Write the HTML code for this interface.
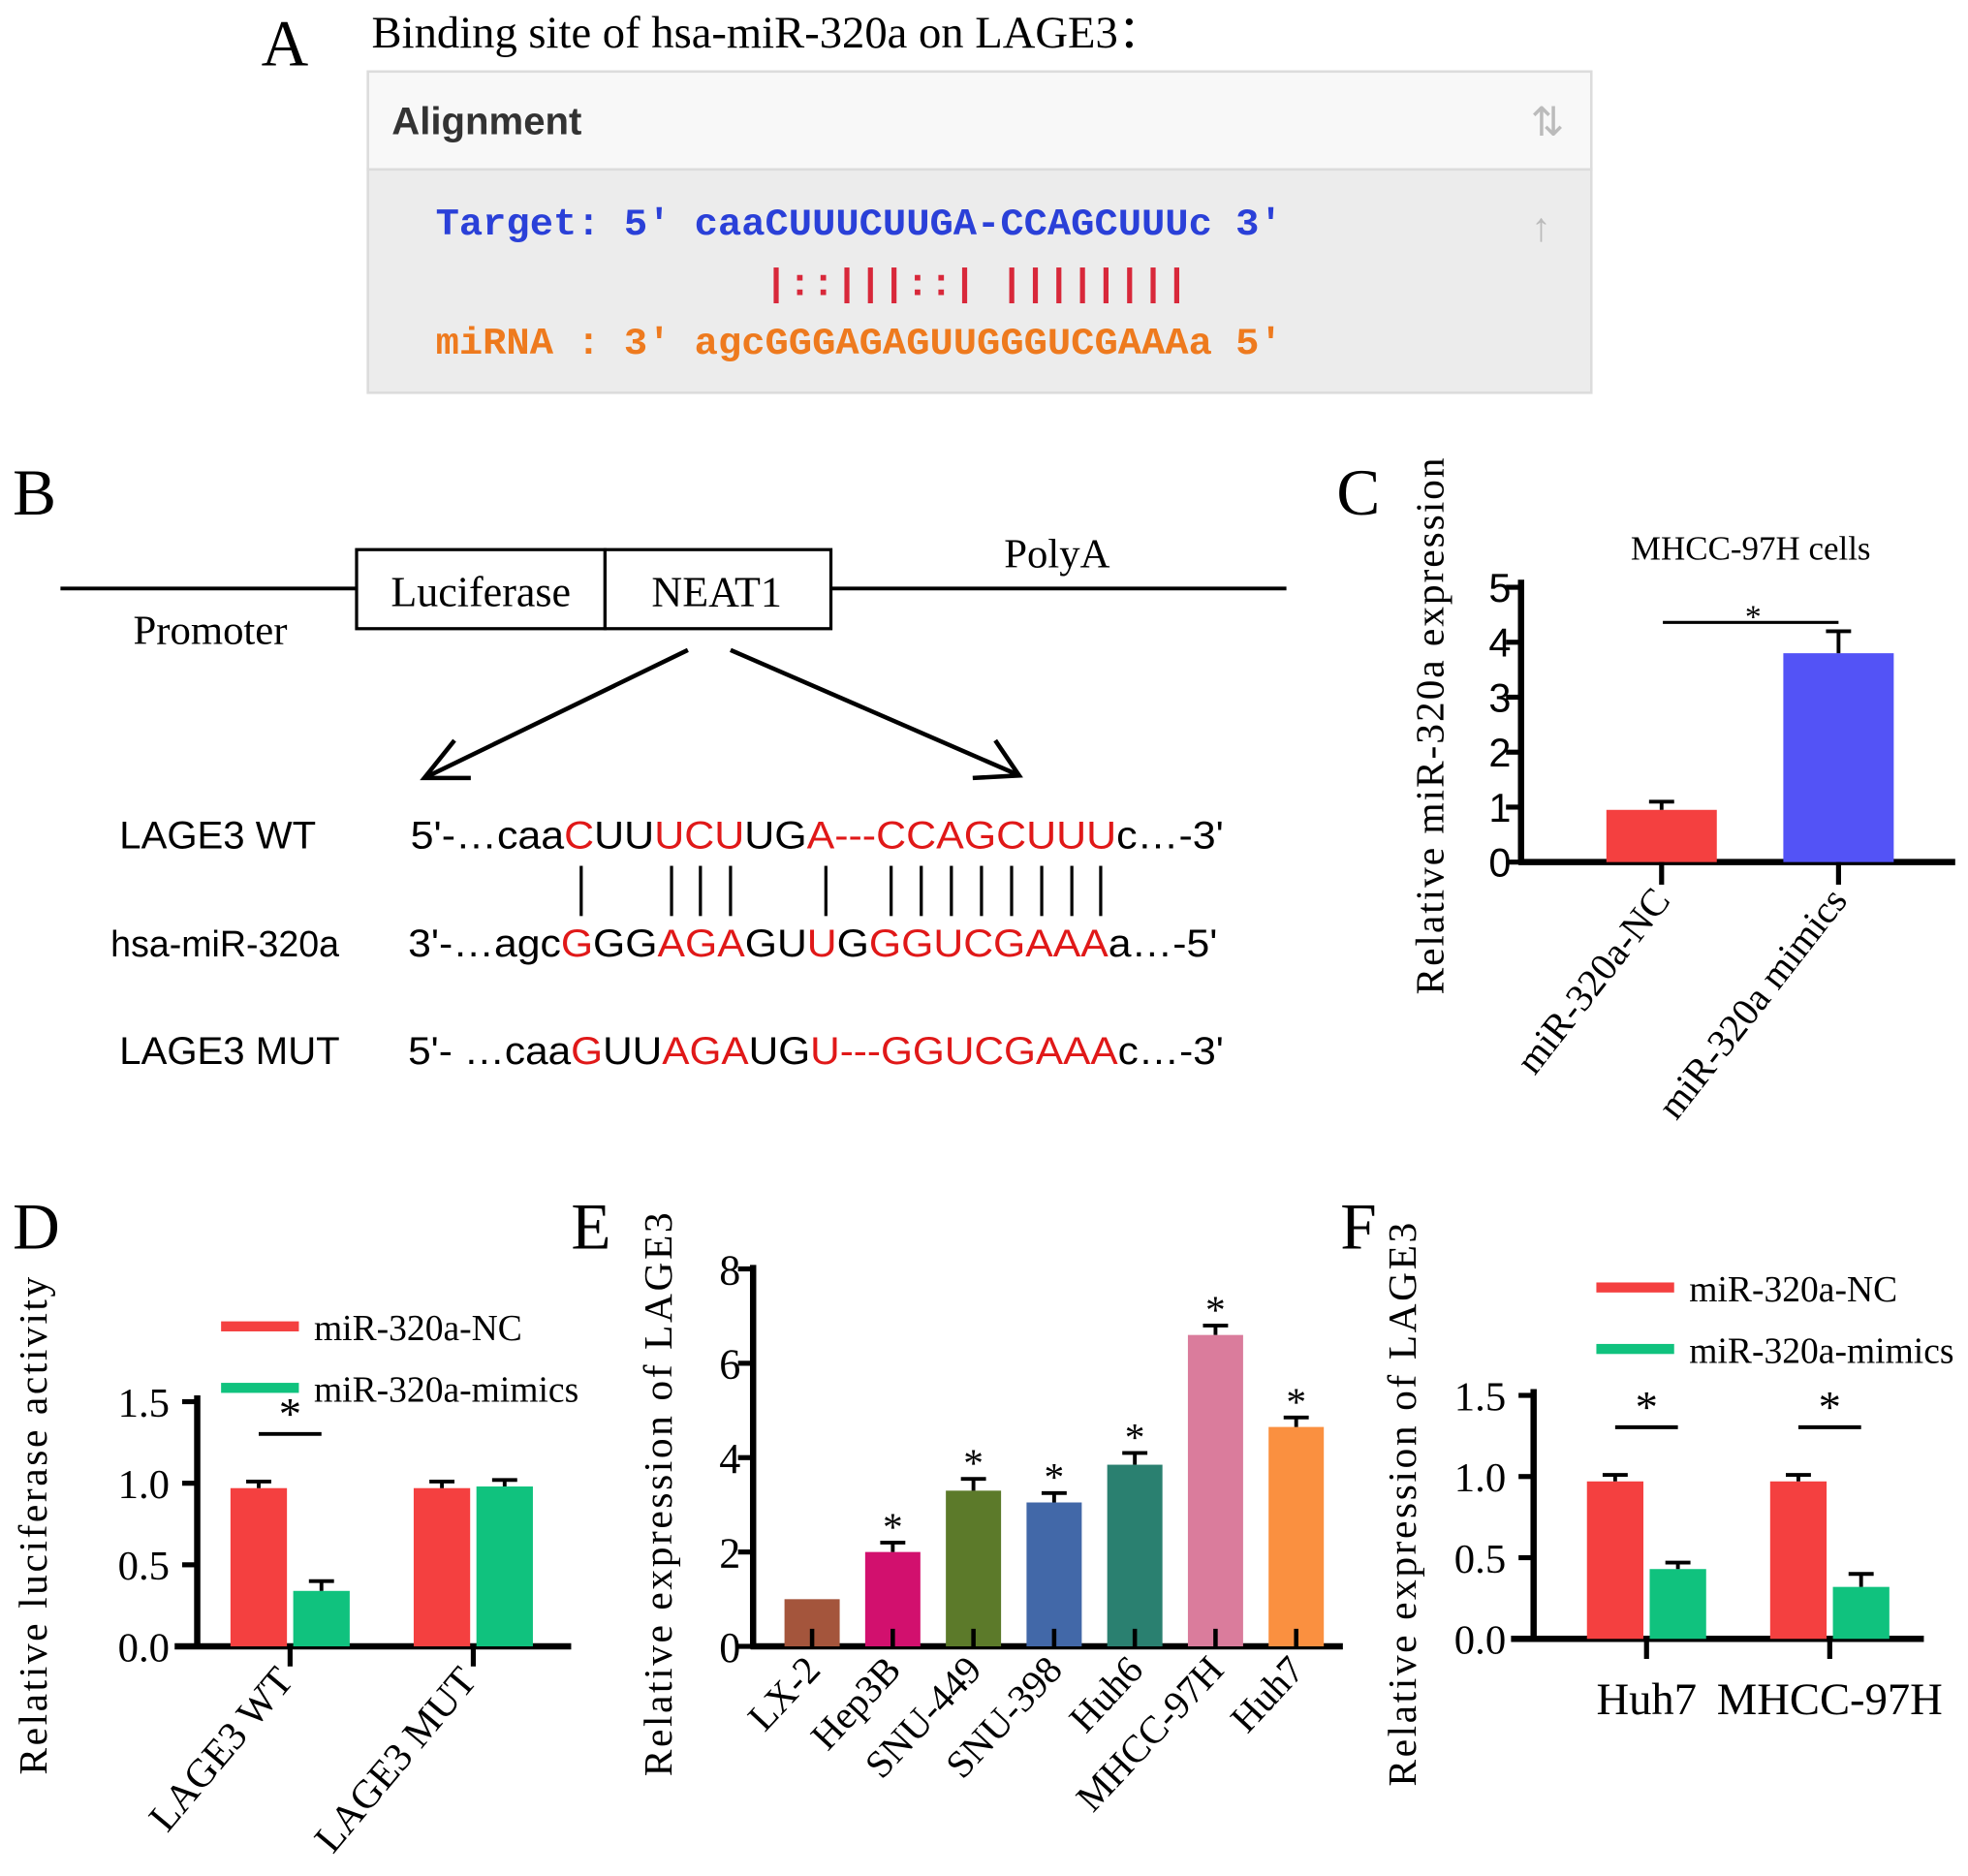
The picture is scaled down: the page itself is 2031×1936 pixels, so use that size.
<!DOCTYPE html>
<html><head><meta charset="utf-8"><style>
html,body{margin:0;padding:0;background:#fff;}
svg{display:block;}
.serif{font-family:"Liberation Serif",serif;}
.sans{font-family:"Liberation Sans",sans-serif;}
.mono{font-family:"Liberation Mono",monospace;font-weight:bold;}
</style></head><body>
<svg id="fig" width="2031" height="1936" viewBox="0 0 1568 1495" xmlns="http://www.w3.org/2000/svg">
<g>
<text class="serif" x="208" y="52" font-size="52">A</text>
<text class="serif" x="296" y="38" font-size="36">Binding site of hsa-miR-320a on LAGE3：</text>
<rect x="293" y="57" width="975" height="78" fill="#f8f8f8" stroke="#dcdcdc" stroke-width="2"/>
<rect x="293" y="135" width="975" height="178" fill="#ececec" stroke="#dcdcdc" stroke-width="2"/>
<text class="sans" x="312" y="107" font-size="31" font-weight="bold" fill="#333">Alignment</text>
<text class="sans" x="1233" y="108" font-size="32" fill="#bbb" text-anchor="middle">⇅</text>
<text class="sans" x="1228" y="192" font-size="32" fill="#bbb" text-anchor="middle">↑</text>
<text class="mono" x="347" y="187" font-size="30" fill="#2a40d8" textLength="675" lengthAdjust="spacingAndGlyphs">Target: 5' caaCUUUCUUGA-CCAGCUUUc 3'</text>
<text class="mono" x="609" y="235" font-size="30" fill="#d8283a" textLength="338" lengthAdjust="spacingAndGlyphs">|::|||::| ||||||||</text>
<text class="mono" x="347" y="282" font-size="30" fill="#ee7a1e" textLength="675" lengthAdjust="spacingAndGlyphs">miRNA : 3' agcGGGAGAGUUGGGUCGAAAa 5'</text>
</g>
<g>
<text class="serif" x="10" y="410" font-size="52">B</text>
<line x1="48" y1="469" x2="284" y2="469" stroke="#000" stroke-width="3"/>
<line x1="662" y1="469" x2="1025" y2="469" stroke="#000" stroke-width="3"/>
<rect x="284" y="438" width="198" height="63" fill="#fff" stroke="#000" stroke-width="2.5"/>
<rect x="482" y="438" width="180" height="63" fill="#fff" stroke="#000" stroke-width="2.5"/>
<text class="serif" x="383" y="483" font-size="34" text-anchor="middle">Luciferase</text>
<text class="serif" x="571" y="483" font-size="34" text-anchor="middle">NEAT1</text>
<text class="serif" x="106" y="513" font-size="33">Promoter</text>
<text class="serif" x="800" y="452" font-size="33">PolyA</text>
<g stroke="#000" stroke-width="3.5" fill="none">
<line x1="548" y1="518" x2="340" y2="619"/><polyline points="362,590 338,620 375,620"/>
<line x1="582" y1="518" x2="810" y2="617"/><polyline points="775,620 812,618 793,590"/>
</g>
<g class="sans" font-size="31">
<text x="95" y="676">LAGE3 WT</text>
<text x="88" y="762" font-size="29">hsa-miR-320a</text>
<text x="95" y="848">LAGE3 MUT</text>
<text x="327" y="676" textLength="648" lengthAdjust="spacingAndGlyphs">5'-…caa<tspan fill="#e01818">C</tspan>UU<tspan fill="#e01818">UCU</tspan>UG<tspan fill="#e01818">A---CCAGCUUU</tspan>c…-3'</text>
<text x="325" y="762" textLength="645" lengthAdjust="spacingAndGlyphs">3'-…agc<tspan fill="#e01818">G</tspan>GG<tspan fill="#e01818">AGA</tspan>GU<tspan fill="#e01818">U</tspan>G<tspan fill="#e01818">GGUCGAAA</tspan>a…-5'</text>
<text x="325" y="848" textLength="650" lengthAdjust="spacingAndGlyphs">5'- …caa<tspan fill="#e01818">G</tspan>UU<tspan fill="#e01818">AGA</tspan>UG<tspan fill="#e01818">U---GGUCGAAA</tspan>c…-3'</text>
</g>
<g id="pairs" stroke="#000" stroke-width="2.5"></g>
</g>
<g id="charts"></g>
<text class="serif" x="1065" y="410" font-size="52">C</text>
<text class="serif" x="10" y="995" font-size="52">D</text>
<text class="serif" x="455" y="995" font-size="52">E</text>
<text class="serif" x="1068" y="995" font-size="52">F</text>
</svg>
<script>
const NS="http://www.w3.org/2000/svg";
const cCats=["miR-320a-NC","miR-320a mimics"];
const cVals=[0.95,3.8];
const cErr=[1.1,4.2];
const cTicks=[0,1,2,3,4,5];
const dCats=["LAGE3 WT","LAGE3 MUT"];
const dNC=[0.97,0.97];
const dNCErr=[1.01,1.01];
const dMim=[0.34,0.98];
const dMimErr=[0.40,1.02];
const dTicks=["0.0","0.5","1.0","1.5"];
const eCats=["LX-2","Hep3B","SNU-449","SNU-398","Huh6","MHCC-97H","Huh7"];
const eVals=[1.0,2.0,3.3,3.05,3.85,6.6,4.65];
const eErr=[1.0,2.2,3.55,3.25,4.1,6.8,4.85];
const eStar=[false,true,true,true,true,true,true];
const eTicks=[0,2,4,6,8];
const fCats=["Huh7","MHCC-97H"];
const fNC=[0.97,0.97];
const fNCErr=[1.01,1.01];
const fMim=[0.43,0.32];
const fMimErr=[0.47,0.40];
const fTicks=["0.0","0.5","1.0","1.5"];

const pairXs=[463,535,558,582,658,710,734,758,782,806,830,854,877];
const pg=document.getElementById('pairs');
pairXs.forEach(x=>{const l=document.createElementNS(NS,'line');
l.setAttribute('x1',x);l.setAttribute('x2',x);l.setAttribute('y1',690);l.setAttribute('y2',730);


pg.appendChild(l);});

const root=document.getElementById('charts');
function el(tag,attrs,parent,text){const e=document.createElementNS(NS,tag);for(const k in attrs)e.setAttribute(k,attrs[k]);if(text!==undefined)e.textContent=text;(parent||root).appendChild(e);return e;}
function bar(g,cx,w,v,err,color,y,name){
  const r=el('rect',{x:cx-w/2,y:y(v),width:w,height:y(0)-y(v),fill:color},g);
  
  
  if(err>v){const l=el('path',{d:`M${cx} ${y(v)}V${y(err)}M${cx-10} ${y(err)}H${cx+10}`,stroke:'#000','stroke-width':3,fill:'none'},g);
  
  }
}
function yAxis(g,x,y,ticks,vals,cls,fs,top,labx){
  el('line',{x1:x,x2:x,y1:top,y2:y(0)+2,stroke:'#000','stroke-width':5},g);
  ticks.forEach((t,i)=>{const v=vals[i];
    el('line',{x1:x-12,x2:x,y1:y(v),y2:y(v),stroke:'#000','stroke-width':4},g);
    const tx=el('text',{x:labx,y:y(v)+fs*0.36,'font-size':fs,'text-anchor':'end',class:cls},g,t);
    
    });
}
{const g=el('g',{});
 const y=v=>687-v*43.8; const xs=[1324,1465];
 yAxis(g,1212,y,cTicks.map(String),cTicks,'sans',32,462,1204);
 el('line',{x1:1210,x2:1558,y1:687,y2:687,stroke:'#000','stroke-width':5},g);
 const cols=['#f44040','#5353f6'];
 cCats.forEach((c,i)=>{bar(g,xs[i],88,cVals[i],cErr[i],cols[i],y,'bar-'+(i?'mimics':'nc'));
  el('line',{x1:xs[i],x2:xs[i],y1:687,y2:705,stroke:'#000','stroke-width':4},g);
  const t=el('text',{x:xs[i]+8,y:718,'font-size':31,'text-anchor':'end',class:'serif',transform:`rotate(-52 ${xs[i]+8} 718)`},g,c);
  });
 el('line',{x1:1325,x2:1465,y1:496,y2:496,stroke:'#000','stroke-width':2.5},g);
 el('text',{x:1397,y:500,'font-size':26,'text-anchor':'middle',class:'serif'},g,'*');
 const tt=el('text',{x:1395,y:446,'font-size':27,'text-anchor':'middle',class:'serif'},g,'MHCC-97H cells');
 
 const yl=el('text',{x:1150,y:578,'font-size':32,'text-anchor':'middle',class:'serif',transform:'rotate(-90 1150 578)','letter-spacing':'1.5'},g,'Relative miR-320a expression');
 }
function grouped(name,cats,nc,ncE,mim,mimE,ticks,axX,base,top,xEnd,groups,ylab,ylx,yly,rot,legY,legX){
 const g=el('g',{});
 const sc=(base-top)/1.5; const y=v=>base-v*sc;
 yAxis(g,axX,y,ticks,ticks.map(Number),'serif',33,top-5,axX-22);
 el('line',{x1:axX-18,x2:xEnd,y1:base,y2:base,stroke:'#000','stroke-width':5},g);
 cats.forEach((c,i)=>{const cx=groups[i];
  bar(g,cx-25,45,nc[i],ncE[i],'#f44040',y,'bar-nc-'+i);
  bar(g,cx+25,45,mim[i],mimE[i],'#10c27e',y,'bar-mimics-'+i);
  el('line',{x1:cx,x2:cx,y1:base,y2:base+16,stroke:'#000','stroke-width':4},g);
  if(rot){const t=el('text',{x:cx+4,y:base+28,'font-size':32,'text-anchor':'end',class:'serif',transform:`rotate(-50 ${cx+4} ${base+28})`},g,c);
   }
  else{const t=el('text',{x:cx,y:base+60,'font-size':36,'text-anchor':'middle',class:'serif'},g,c);
   }
  if(Math.abs(nc[i]-mim[i])>0.3){const sy=y(Math.max(ncE[i],mimE[i]))-38;
   el('line',{x1:cx-25,x2:cx+25,y1:sy,y2:sy,stroke:'#000','stroke-width':3},g);
   el('text',{x:cx,y:sy-4,'font-size':36,'text-anchor':'middle',class:'serif'},g,'*');}
 });
 [['#f44040','miR-320a-NC'],['#10c27e','miR-320a-mimics']].forEach((l,i)=>{
  const yy=legY+i*49;
  el('rect',{x:legX,y:yy-4,width:62,height:8,fill:l[0]},g);
  const t=el('text',{x:legX+74,y:yy+11,'font-size':29,class:'serif'},g,l[1]);
  });
 const yl=el('text',{x:ylx,y:yly,'font-size':32,'text-anchor':'middle',class:'serif',transform:`rotate(-90 ${ylx} ${yly})`,'letter-spacing':'2'},g,ylab);
 
}
grouped('panel-d-chart',dCats,dNC,dNCErr,dMim,dMimErr,dTicks,157,1312,1117,455,[231,377],'Relative luciferase activity',37,1215,true,1057,176);
grouped('panel-f-chart',fCats,fNC,fNCErr,fMim,fMimErr,fTicks,1222,1306,1112,1533,[1312,1458],'Relative expression of LAGE3',1128,1198,false,1026,1272);
{const g=el('g',{});
 const y=v=>1312-v*37.6; const x0=647,step=64.3;
 yAxis(g,600,y,eTicks.map(String),eTicks,'serif',34,1008,590);
 el('line',{x1:598,x2:1070,y1:1312,y2:1312,stroke:'#000','stroke-width':5},g);
 const cols=['#a4553c','#d2106e','#5c7a2a','#4268a8','#2a8070','#da7c9c','#fa9040'];
 eCats.forEach((c,i)=>{const cx=x0+i*step;
  bar(g,cx,44,eVals[i],eErr[i],cols[i],y,'bar-'+c.toLowerCase());
  el('line',{x1:cx,x2:cx,y1:1298,y2:1312,stroke:'#000','stroke-width':3.5},g);
  if(eStar[i])el('text',{x:cx,y:y(eErr[i])-2,'font-size':32,'text-anchor':'middle',class:'serif'},g,'*');
  const t=el('text',{x:cx+8,y:1332,'font-size':31,'text-anchor':'end',class:'serif',transform:`rotate(-47 ${cx+8} 1332)`},g,c);
  });
 const yl=el('text',{x:535,y:1190,'font-size':32,'text-anchor':'middle',class:'serif',transform:'rotate(-90 535 1190)','letter-spacing':'2'},g,'Relative expression of LAGE3');
 }
</script>
</body></html>
